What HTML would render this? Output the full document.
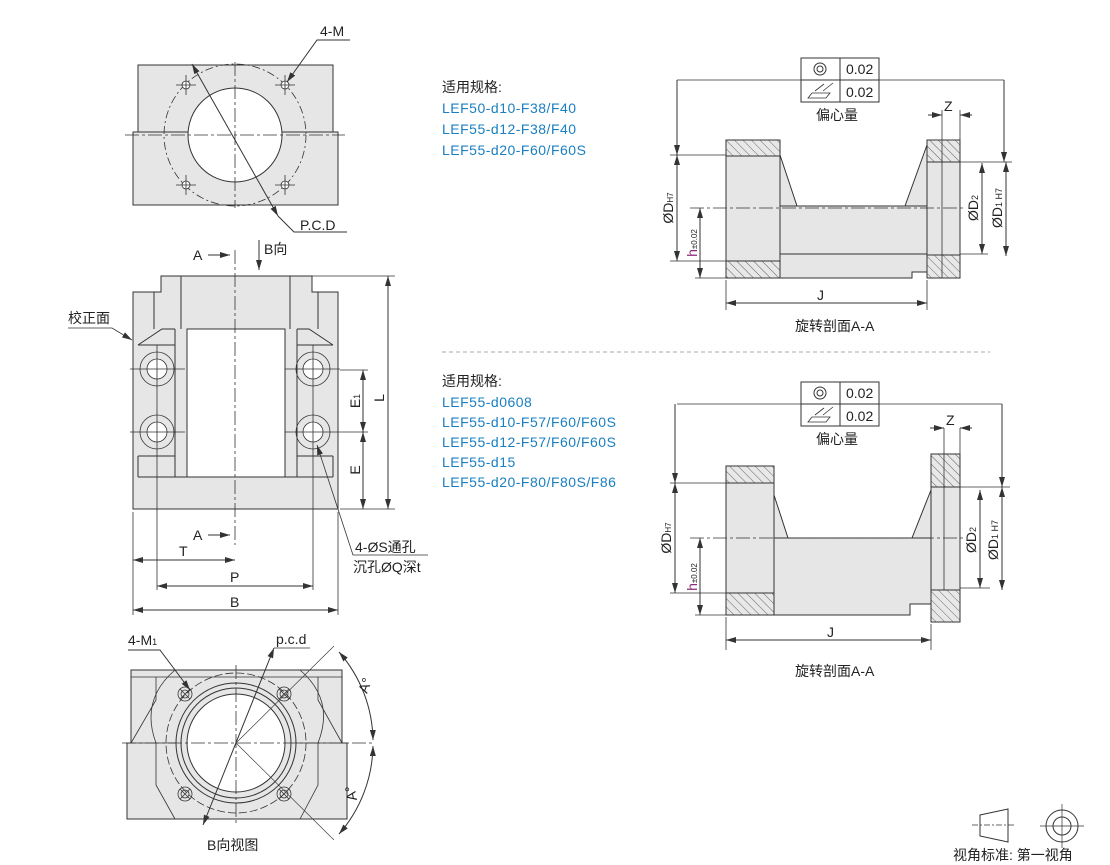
<!DOCTYPE html>
<html><head><meta charset="utf-8"><style>
html,body{margin:0;padding:0;background:#fff}
svg{display:block}
text{font-family:"Liberation Sans","Noto Sans CJK SC",sans-serif;fill:#222}
.b{fill:#1a7fc0}
</style></head><body>
<svg width="1110" height="865" viewBox="0 0 1110 865" xmlns="http://www.w3.org/2000/svg">
<defs>
<pattern id="h" width="6" height="6" patternUnits="userSpaceOnUse" patternTransform="rotate(-45)">
<rect width="6" height="6" fill="#e8e8e8"/><line x1="0" y1="0" x2="0" y2="6" stroke="#444" stroke-width="0.8"/></pattern>
<marker id="a" markerWidth="10" markerHeight="6" refX="10" refY="3" orient="auto-start-reverse" markerUnits="userSpaceOnUse"><path d="M0,0 L10,3 L0,6 z" fill="#333"/></marker>
</defs>
<g stroke="#333" stroke-width="1" fill="none">

<!-- TOP LEFT VIEW -->
<path d="M138,65 H333 V132 H338 V205 H133 V132 H138 Z" fill="#e6e6e6"/>
<line x1="133" y1="132" x2="338" y2="132"/>
<circle cx="235" cy="135" r="71" stroke-dasharray="8,3,2,3" stroke-width="0.8"/>
<circle cx="235" cy="135" r="47" fill="#fff"/>
<g stroke-width="0.8" stroke-dasharray="14,3,3,3">
<line x1="125" y1="135" x2="345" y2="135"/><line x1="235" y1="62" x2="235" y2="208"/></g>
<g stroke-width="0.8">
<circle cx="186" cy="85" r="4" fill="#fff"/><circle cx="285" cy="85" r="4" fill="#fff"/>
<circle cx="186" cy="185" r="4" fill="#fff"/><circle cx="285" cy="185" r="4" fill="#fff"/>
<path d="M176,85h20M186,75v20M275,85h20M285,75v20M176,185h20M186,175v20M275,185h20M285,175v20"/>
</g>
<line x1="192" y1="64" x2="278" y2="216" marker-start="url(#a)" marker-end="url(#a)"/>
<polyline points="278,216 294,232 347,232"/>
<polyline points="350,40 317,40 287,82" marker-end="url(#a)"/>

<!-- MIDDLE VIEW -->
<path d="M161,276 H312 V292 H338 V509 H133 V292 H161 Z" fill="#e6e6e6"/>
<rect x="187" y="329" width="98" height="148" fill="#fff"/>
<path d="M181,276V329M290,276V329M175,329V477M297,329V477M187,329V477M285,329V477"/>
<path d="M154,292V329M318,292V329M138,345L162,329H175M333,345L309,329H297M138,345H175M333,345H297"/>
<path d="M138,456H175M297,456H333M138,456V477M333,456V477M138,477H333"/>
<g stroke-width="0.8">
<circle cx="157" cy="369" r="17"/><circle cx="157" cy="369" r="10" fill="#fff"/>
<circle cx="313" cy="369" r="17"/><circle cx="313" cy="369" r="10" fill="#fff"/>
<circle cx="157" cy="432" r="17"/><circle cx="157" cy="432" r="10" fill="#fff"/>
<circle cx="313" cy="432" r="17"/><circle cx="313" cy="432" r="10" fill="#fff"/>
<path d="M130,369H185M130,432H185M285,369H340M285,432H340"/>
<path d="M157,345V590M313,345V590"/>
</g>
<line x1="235" y1="250" x2="235" y2="545" stroke-width="0.8" stroke-dasharray="14,3,3,3"/>
<line x1="208" y1="255" x2="230" y2="255" marker-end="url(#a)"/>
<line x1="208" y1="535" x2="230" y2="535" marker-end="url(#a)"/>
<line x1="259" y1="240" x2="259" y2="270" marker-end="url(#a)"/>
<path d="M312,276H395M340,509H395M340,432H368M340,370H368" stroke-width="0.8"/>
<line x1="388" y1="276" x2="388" y2="509" marker-start="url(#a)" marker-end="url(#a)"/>
<line x1="363" y1="370" x2="363" y2="432" marker-start="url(#a)" marker-end="url(#a)"/>
<line x1="363" y1="432" x2="363" y2="509" marker-start="url(#a)" marker-end="url(#a)"/>
<path d="M133,512V615M338,512V615" stroke-width="0.8"/>
<line x1="133" y1="560" x2="235" y2="560" marker-start="url(#a)" marker-end="url(#a)"/>
<line x1="157" y1="586" x2="313" y2="586" marker-start="url(#a)" marker-end="url(#a)"/>
<line x1="133" y1="610" x2="338" y2="610" marker-start="url(#a)" marker-end="url(#a)"/>
<polyline points="68,328 112,328 132,340" stroke-width="0.8" marker-end="url(#a)"/>
<polyline points="428,555 353,555 317,445" stroke-width="0.8" marker-end="url(#a)"/>

<!-- BOTTOM VIEW -->
<path d="M131,670 H342 V743 H347 V819 H127 V743 H131 Z" fill="#e6e6e6"/>
<path d="M131,677H342M127,743H347M131,743L156,700V677M342,743L318,700V677M156,743V785L175,819M318,743V785L300,819" stroke-width="0.8"/>
<path d="M175,670 Q140,700 156,743 M300,670 Q335,700 318,743" stroke-width="0.8"/>
<circle cx="236" cy="743" r="70" stroke-dasharray="8,3" stroke-width="0.8"/>
<circle cx="236" cy="743" r="60" fill="#e6e6e6"/>
<circle cx="236" cy="743" r="55"/>
<circle cx="236" cy="743" r="49" fill="#fff"/>
<g stroke-width="0.8">
<circle cx="185" cy="694" r="7"/><circle cx="185" cy="694" r="4"/>
<circle cx="284" cy="694" r="7"/><circle cx="284" cy="694" r="4"/>
<circle cx="185" cy="794" r="7"/><circle cx="185" cy="794" r="4"/>
<circle cx="284" cy="794" r="7"/><circle cx="284" cy="794" r="4"/>
<path d="M180,689l10,10M190,689l-10,10M279,689l10,10M289,689l-10,10M180,789l10,10M190,789l-10,10M279,789l10,10M289,789l-10,10"/>
</g>
<g stroke-width="0.8" stroke-dasharray="14,3,3,3">
<line x1="122" y1="743" x2="375" y2="743"/><line x1="236" y1="665" x2="236" y2="825"/></g>
<path d="M236,743L334,646M236,743L334,840" stroke-width="0.6"/>
<path d="M339,652 A137,137 0 0 1 373,740" marker-start="url(#a)" marker-end="url(#a)"/>
<path d="M373,746 A137,137 0 0 1 339,834" marker-start="url(#a)" marker-end="url(#a)"/>
<line x1="274" y1="648" x2="203" y2="825" marker-start="url(#a)" marker-end="url(#a)"/>
<polyline points="310,648 274,648" stroke-width="0.8"/>
<polyline points="128,650 160,650 190,690" marker-end="url(#a)"/>

<!-- SECTION 1 -->
<rect x="801" y="58" width="78" height="44" fill="#fff"/>
<path d="M801,80H879M840,58V102"/>
<circle cx="820" cy="69" r="6"/><circle cx="820" cy="69" r="3"/>
<path d="M808,98 L812,93 L830,93 L826,98 Z M815,91 L824,84 M823,91 L833,83" stroke-width="0.8"/>
<path d="M677,80H801M879,80H1004" stroke-width="0.8"/>
<line x1="677" y1="80" x2="677" y2="155" marker-end="url(#a)"/>
<line x1="1004" y1="80" x2="1004" y2="162" marker-end="url(#a)"/>
<path d="M780,155L797,206H780Z" fill="#e6e6e6"/>
<path d="M927,145L905,206H927Z" fill="#e6e6e6"/>
<path d="M780,206H927V272H912V278H780Z" fill="#e6e6e6"/>
<line x1="780" y1="254" x2="927" y2="254"/>
<rect x="726" y="140" width="54" height="138" fill="#e6e6e6"/>
<rect x="726" y="140" width="54" height="16" fill="url(#h)"/>
<rect x="726" y="261" width="54" height="17" fill="url(#h)"/>
<rect x="927" y="140" width="33" height="138" fill="#e6e6e6"/>
<rect x="927" y="140" width="33" height="22" fill="url(#h)"/>
<rect x="927" y="255" width="33" height="23" fill="url(#h)"/>
<line x1="942" y1="110" x2="942" y2="278" stroke-width="0.8"/>
<line x1="960" y1="110" x2="960" y2="140" stroke-width="0.8"/>
<line x1="690" y1="208" x2="965" y2="208" stroke-width="0.8" stroke-dasharray="14,3,3,3"/>
<path d="M670,155H726M670,261H726M695,278H726M960,162H1012M960,254H988M726,280V310M927,280V310" stroke-width="0.8"/>
<line x1="677" y1="155" x2="677" y2="261" marker-start="url(#a)" marker-end="url(#a)"/>
<line x1="700" y1="208" x2="700" y2="278" marker-start="url(#a)" marker-end="url(#a)"/>
<line x1="982" y1="163" x2="982" y2="254" marker-start="url(#a)" marker-end="url(#a)"/>
<line x1="1006" y1="162" x2="1006" y2="256" marker-start="url(#a)" marker-end="url(#a)"/>
<line x1="726" y1="303" x2="927" y2="303" marker-start="url(#a)" marker-end="url(#a)"/>
<line x1="928" y1="115" x2="942" y2="115" marker-end="url(#a)"/>
<line x1="972" y1="115" x2="960" y2="115" marker-end="url(#a)"/>

<line x1="442" y1="352" x2="990" y2="352" stroke="#aaa" stroke-dasharray="4,3"/>

<!-- SECTION 2 -->
<rect x="801" y="382" width="78" height="44" fill="#fff"/>
<path d="M801,404H879M840,382V426"/>
<circle cx="820" cy="393" r="6"/><circle cx="820" cy="393" r="3"/>
<path d="M808,422 L812,417 L830,417 L826,422 Z M815,415 L824,408 M823,415 L833,407" stroke-width="0.8"/>
<path d="M677,404H801M879,404H1002" stroke-width="0.8"/>
<line x1="675" y1="404" x2="675" y2="483" marker-end="url(#a)"/>
<line x1="1002" y1="404" x2="1002" y2="487" marker-end="url(#a)"/>
<path d="M774,495L788,538H774Z" fill="#e6e6e6"/>
<path d="M931,490L912,538H931Z" fill="#e6e6e6"/>
<path d="M774,538H931V604H910V615H774Z" fill="#e6e6e6"/>
<rect x="726" y="466" width="48" height="149" fill="#e6e6e6"/>
<rect x="726" y="466" width="48" height="17" fill="url(#h)"/>
<rect x="726" y="593" width="48" height="22" fill="url(#h)"/>
<rect x="931" y="454" width="29" height="168" fill="#e6e6e6"/>
<rect x="931" y="454" width="29" height="33" fill="url(#h)"/>
<rect x="931" y="590" width="29" height="32" fill="url(#h)"/>
<line x1="944" y1="428" x2="944" y2="590" stroke-width="0.8"/>
<line x1="960" y1="428" x2="960" y2="454" stroke-width="0.8"/>
<line x1="690" y1="538" x2="965" y2="538" stroke-width="0.8" stroke-dasharray="14,3,3,3"/>
<path d="M670,483H726M670,593H726M695,615H726M960,487H1010M960,588H990M726,617V650M931,624V650" stroke-width="0.8"/>
<line x1="675" y1="483" x2="675" y2="593" marker-start="url(#a)" marker-end="url(#a)"/>
<line x1="700" y1="538" x2="700" y2="615" marker-start="url(#a)" marker-end="url(#a)"/>
<line x1="980" y1="490" x2="980" y2="588" marker-start="url(#a)" marker-end="url(#a)"/>
<line x1="1002" y1="487" x2="1002" y2="590" marker-start="url(#a)" marker-end="url(#a)"/>
<line x1="726" y1="640" x2="931" y2="640" marker-start="url(#a)" marker-end="url(#a)"/>
<line x1="930" y1="428" x2="944" y2="428" marker-end="url(#a)"/>
<line x1="972" y1="428" x2="960" y2="428" marker-end="url(#a)"/>

<!-- view symbol -->
<path d="M980,815L1008,809V842L980,836Z"/>
<path d="M972,825H1015" stroke-width="0.7" stroke-dasharray="6,2,2,2"/>
<circle cx="1062" cy="826" r="16"/><circle cx="1062" cy="826" r="9"/>
<path d="M1040,826H1084M1062,804V848" stroke-width="0.7"/>
</g>

<!-- TEXT -->
<g font-size="14">
<text x="320" y="36">4-M</text>
<text x="300" y="230">P.C.D</text>
<text x="193" y="260">A</text>
<text x="264" y="254">B向</text>
<text x="68" y="323">校正面</text>
<text x="193" y="540">A</text>
<text x="179" y="556">T</text>
<text x="230" y="582">P</text>
<text x="230" y="607">B</text>
<text x="355" y="552">4-ØS通孔</text>
<text x="353" y="572">沉孔ØQ深t</text>
<text transform="translate(389,398) rotate(-90)" text-anchor="middle" x="0" y="-5">L</text>
<text transform="translate(364,401) rotate(-90)" text-anchor="middle" x="0" y="-4">E<tspan font-size="9">1</tspan></text>
<text transform="translate(364,470) rotate(-90)" text-anchor="middle" x="0" y="-4">E</text>
<text x="128" y="645">4-M<tspan font-size="9">1</tspan></text>
<text x="276" y="644">p.c.d</text>
<text x="207" y="850">B向视图</text>
<text transform="translate(367,694) rotate(-70)" x="0" y="0">A°</text>
<text transform="translate(357,800) rotate(-100)" x="0" y="0">A°</text>

<text x="442" y="92">适用规格:</text>
<text class="b" x="442" y="113" letter-spacing="0.5">LEF50-d10-F38/F40</text>
<text class="b" x="442" y="134" letter-spacing="0.5">LEF55-d12-F38/F40</text>
<text class="b" x="442" y="155" letter-spacing="0.5">LEF55-d20-F60/F60S</text>
<text x="442" y="386">适用规格:</text>
<text class="b" x="442" y="407" letter-spacing="0.5">LEF55-d0608</text>
<text class="b" x="442" y="427" letter-spacing="0.5">LEF55-d10-F57/F60/F60S</text>
<text class="b" x="442" y="447" letter-spacing="0.5">LEF55-d12-F57/F60/F60S</text>
<text class="b" x="442" y="467" letter-spacing="0.5">LEF55-d15</text>
<text class="b" x="442" y="487" letter-spacing="0.5">LEF55-d20-F80/F80S/F86</text>

<text x="846" y="74">0.02</text><text x="846" y="97">0.02</text>
<text x="816" y="120">偏心量</text>
<text x="944" y="111">Z</text>
<text x="817" y="300">J</text>
<text x="795" y="331">旋转剖面A-A</text>
<text transform="translate(673,208) rotate(-90)" text-anchor="middle">ØD<tspan font-size="8">H7</tspan></text>
<text transform="translate(697,243) rotate(-90)" text-anchor="middle"><tspan fill="#8a2a7a">h</tspan><tspan font-size="8">±0.02</tspan></text>
<text transform="translate(978,208) rotate(-90)" text-anchor="middle">ØD<tspan font-size="9">2</tspan></text>
<text transform="translate(1002,208) rotate(-90)" text-anchor="middle">ØD<tspan font-size="9">1 H7</tspan></text>

<text x="846" y="398">0.02</text><text x="846" y="421">0.02</text>
<text x="816" y="444">偏心量</text>
<text x="946" y="425">Z</text>
<text x="827" y="637">J</text>
<text x="795" y="676">旋转剖面A-A</text>
<text transform="translate(671,538) rotate(-90)" text-anchor="middle">ØD<tspan font-size="8">H7</tspan></text>
<text transform="translate(697,577) rotate(-90)" text-anchor="middle"><tspan fill="#8a2a7a">h</tspan><tspan font-size="8">±0.02</tspan></text>
<text transform="translate(976,540) rotate(-90)" text-anchor="middle">ØD<tspan font-size="9">2</tspan></text>
<text transform="translate(998,540) rotate(-90)" text-anchor="middle">ØD<tspan font-size="9">1 H7</tspan></text>

<text x="953" y="860">视角标准: 第一视角</text>
</g>
</svg>
</body></html>
